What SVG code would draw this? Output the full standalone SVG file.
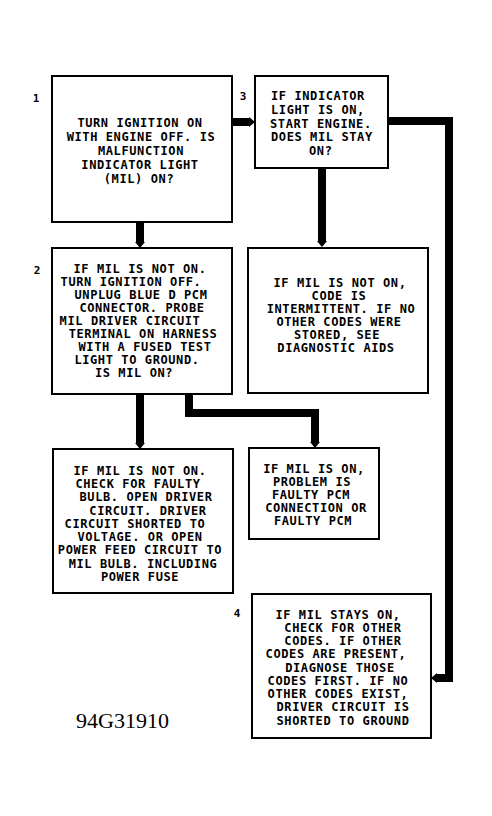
<svg xmlns="http://www.w3.org/2000/svg" width="492" height="816" viewBox="0 0 492 816">
<style>
.box{fill:#fff;stroke:#000;stroke-width:2}
.t{font-family:"DejaVu Sans Mono","Liberation Mono",monospace;font-size:12px;letter-spacing:0.6px;fill:#000;text-anchor:middle;font-weight:bold}
.ts{text-anchor:start}
.num{font-family:"DejaVu Sans Mono","Liberation Mono",monospace;font-size:11px;fill:#000;text-anchor:middle;font-weight:bold}
.c{fill:none;stroke:#000;stroke-width:8;stroke-linejoin:miter}
.fig{font-family:"Liberation Serif","Times New Roman",serif;font-size:20px;fill:#000}
</style>
<defs>
<marker id="ah" viewBox="0 0 6 10" refX="0" refY="5" markerWidth="0.75" markerHeight="1.25" orient="auto" markerUnits="strokeWidth">
<path d="M0,0 L6,5 L0,10 Z" fill="#000"/>
</marker>
</defs>
<rect width="492" height="816" fill="#fff"/>
<g id="connectors">
<path class="c" d="M232,122 H249" marker-end="url(#ah)"/>
<path class="c" d="M388,121 H449 V678 H437" marker-end="url(#ah)"/>
<path class="c" d="M140,222 V242" marker-end="url(#ah)"/>
<path class="c" d="M322,168 V241" marker-end="url(#ah)"/>
<path class="c" d="M140,394 V443" marker-end="url(#ah)"/>
<path class="c" d="M189,394 V413 H315 V442" marker-end="url(#ah)"/>
</g>
<g id="node1">
<rect class="box" x="52" y="76" width="180" height="146"/>
<text class="num" x="36" y="102">1</text>
<text class="t" x="140" y="127">TURN IGNITION ON</text>
<text class="t" x="141" y="141">WITH ENGINE OFF. IS</text>
<text class="t" x="141" y="155">MALFUNCTION</text>
<text class="t" x="140" y="169">INDICATOR LIGHT</text>
<text class="t" x="139" y="183">(MIL) ON?</text>
</g>
<g id="node3">
<rect class="box" x="255" y="76" width="133" height="92"/>
<text class="num" x="243" y="100">3</text>
<text class="t ts" x="271" y="100">IF INDICATOR</text>
<text class="t ts" x="271" y="114">LIGHT IS ON,</text>
<text class="t ts" x="270" y="128">START ENGINE.</text>
<text class="t ts" x="271" y="141">DOES MIL STAY</text>
<text class="t ts" x="309" y="155">ON?</text>
</g>
<g id="node2">
<rect class="box" x="52" y="248" width="180" height="146"/>
<text class="num" x="37" y="274">2</text>
<text class="t" x="140" y="272.5">IF MIL IS NOT ON.</text>
<text class="t" x="131" y="285.5">TURN IGNITION OFF.</text>
<text class="t" x="141" y="298.5">UNPLUG BLUE D PCM</text>
<text class="t" x="142" y="311.5">CONNECTOR. PROBE</text>
<text class="t" x="130" y="324.5">MIL DRIVER CIRCUIT</text>
<text class="t" x="143" y="337.5">TERMINAL ON HARNESS</text>
<text class="t" x="145" y="350.5">WITH A FUSED TEST</text>
<text class="t" x="137" y="363.5">LIGHT TO GROUND.</text>
<text class="t" x="134" y="376.5">IS MIL ON?</text>
</g>
<g id="node5">
<rect class="box" x="248" y="248" width="180" height="145"/>
<text class="t" x="340" y="287">IF MIL IS NOT ON,</text>
<text class="t" x="339" y="300">CODE IS</text>
<text class="t" x="341" y="313">INTERMITTENT. IF NO</text>
<text class="t" x="339" y="326">OTHER CODES WERE</text>
<text class="t" x="337" y="339">STORED, SEE</text>
<text class="t" x="336" y="352">DIAGNOSTIC AIDS</text>
</g>
<g id="node6">
<rect class="box" x="53" y="449" width="180" height="144"/>
<text class="t" x="140" y="475">IF MIL IS NOT ON.</text>
<text class="t" x="138" y="488">CHECK FOR FAULTY</text>
<text class="t" x="146" y="501">BULB. OPEN DRIVER</text>
<text class="t" x="148" y="514.5">CIRCUIT. DRIVER</text>
<text class="t" x="135" y="528">CIRCUIT SHORTED TO</text>
<text class="t" x="140" y="541">VOLTAGE. OR OPEN</text>
<text class="t" x="140" y="554">POWER FEED CIRCUIT TO</text>
<text class="t" x="143" y="567.5">MIL BULB. INCLUDING</text>
<text class="t" x="140" y="581">POWER FUSE</text>
</g>
<g id="node7">
<rect class="box" x="249" y="448" width="130" height="91"/>
<text class="t" x="314" y="472.5">IF MIL IS ON,</text>
<text class="t" x="312" y="485.5">PROBLEM IS</text>
<text class="t" x="311" y="498.5">FAULTY PCM</text>
<text class="t" x="316" y="511.5">CONNECTION OR</text>
<text class="t" x="313" y="524.5">FAULTY PCM</text>
</g>
<g id="node4">
<rect class="box" x="252" y="594" width="179" height="144"/>
<text class="num" x="237" y="617">4</text>
<text class="t" x="338" y="618.5">IF MIL STAYS ON,</text>
<text class="t" x="343" y="632">CHECK FOR OTHER</text>
<text class="t" x="343" y="645">CODES. IF OTHER</text>
<text class="t" x="336" y="658">CODES ARE PRESENT,</text>
<text class="t" x="340" y="671.5">DIAGNOSE THOSE</text>
<text class="t" x="338" y="685">CODES FIRST. IF NO</text>
<text class="t" x="338" y="698">OTHER CODES EXIST,</text>
<text class="t" x="343" y="711">DRIVER CIRCUIT IS</text>
<text class="t" x="343" y="724.5">SHORTED TO GROUND</text>
</g>
<text class="fig" x="76" y="728" textLength="93" lengthAdjust="spacingAndGlyphs">94G31910</text>
</svg>
